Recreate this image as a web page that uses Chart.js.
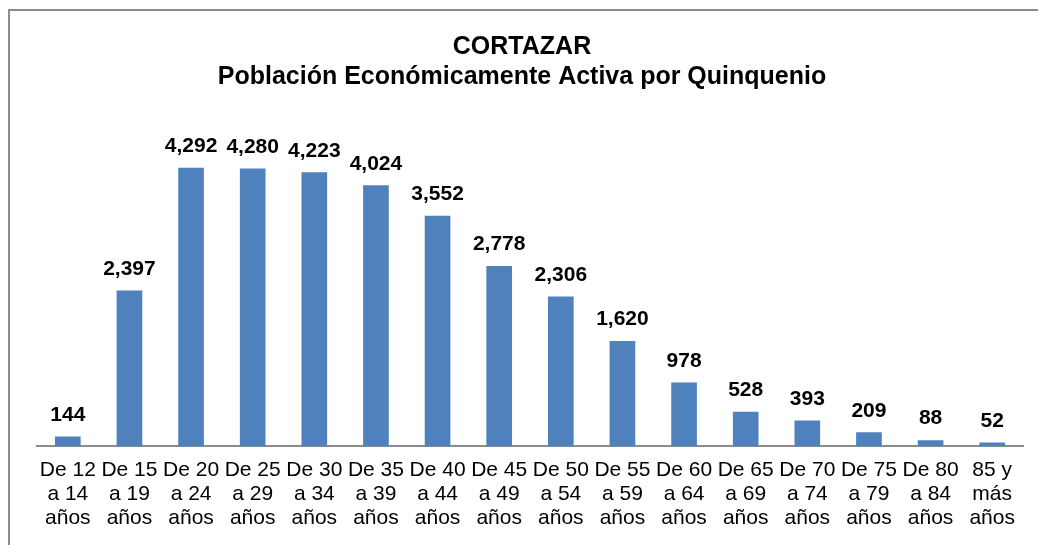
<!DOCTYPE html>
<html>
<head>
<meta charset="utf-8">
<script src="https://cdn.jsdelivr.net/npm/chart.js@4"></script>
<style>
  html, body { margin: 0; padding: 0; background: #fff; overflow: hidden; }
  .frame {
    position: absolute; left: 8px; top: 9px;
    width: 1100px; height: 600px;
    border: 2px solid #8c8c8c;
  }
  .wrap { position: absolute; left: 0; top: 0; width: 1038px; height: 545px; }
</style>
</head>
<body>
<div class="frame"></div>
<div class="wrap"><canvas id="chart" width="1038" height="545"></canvas></div>
<script>
const titleLines = ["CORTAZAR", "Población Económicamente Activa por Quinquenio"];

const ageGroups = [
  ["De 12", "a 14", "años"],
  ["De 15", "a 19", "años"],
  ["De 20", "a 24", "años"],
  ["De 25", "a 29", "años"],
  ["De 30", "a 34", "años"],
  ["De 35", "a 39", "años"],
  ["De 40", "a 44", "años"],
  ["De 45", "a 49", "años"],
  ["De 50", "a 54", "años"],
  ["De 55", "a 59", "años"],
  ["De 60", "a 64", "años"],
  ["De 65", "a 69", "años"],
  ["De 70", "a 74", "años"],
  ["De 75", "a 79", "años"],
  ["De 80", "a 84", "años"],
  ["85 y", "más", "años"]
];

const population = [144, 2397, 4292, 4280, 4223, 4024, 3552, 2778, 2306, 1620, 978, 528, 393, 209, 88, 52];

// draws the value above every bar
const valueLabels = {
  id: "valueLabels",
  afterDatasetsDraw(chart) {
    const ctx = chart.ctx;
    const meta = chart.getDatasetMeta(0);
    ctx.save();
    ctx.font = "bold 21px 'Liberation Sans', Arial, sans-serif";
    ctx.fillStyle = "#000";
    ctx.textAlign = "center";
    ctx.textBaseline = "alphabetic";
    meta.data.forEach((bar, i) => {
      ctx.fillText(population[i].toLocaleString("en-US"), bar.x, bar.y - 16);
    });
    ctx.restore();
  }
};

new Chart(document.getElementById("chart"), {
  type: "bar",
  data: {
    labels: ageGroups,
    datasets: [{
      data: population,
      backgroundColor: "#4f81bd",
      barThickness: 25
    }]
  },
  options: {
    responsive: false,
    animation: false,
    layout: { padding: { left: 21, right: 15, top: 0, bottom: 3 } },
    plugins: {
      legend: { display: false },
      tooltip: { enabled: false },
      title: {
        display: true,
        text: titleLines,
        color: "#000",
        font: { family: "'Liberation Sans', Arial, sans-serif", size: 25, weight: "bold", lineHeight: 1.2 },
        padding: { top: 32, bottom: 18 }
      }
    },
    scales: {
      x: {
        grid: { display: false, drawTicks: false },
        border: { color: "#8c8c8c", width: 2 },
        ticks: {
          color: "#000",
          autoSkip: false,
          maxRotation: 0,
          padding: 12,
          font: { family: "'Liberation Sans', Arial, sans-serif", size: 21, lineHeight: 1.14 }
        }
      },
      y: {
        min: 0,
        max: 5190,
        grid: { display: false, drawTicks: false },
        border: { display: false },
        ticks: { display: false },
        afterFit(scale) { scale.width = 16; }
      }
    }
  },
  plugins: [valueLabels]
});
</script>
</body>
</html>
